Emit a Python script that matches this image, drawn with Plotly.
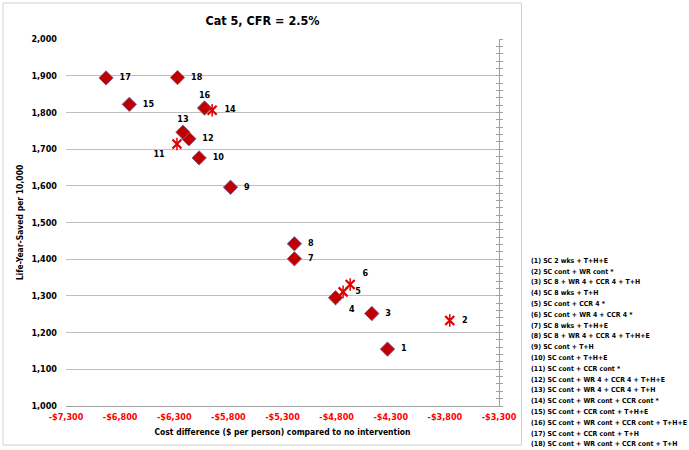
import plotly.graph_objects as go

# ---- data ----
point_ids = [1, 2, 3, 4, 5, 6, 7, 8, 9, 10, 11, 12, 13, 14, 15, 16, 17, 18]
cost_diff = [-4330, -3755, -4475, -4810, -4740, -4675, -5190, -5190, -5780,
             -6070, -6275, -6165, -6220, -5950, -6715, -6020, -6930, -6270]
life_years = [1155, 1233, 1252, 1295, 1311, 1331, 1401, 1442, 1596,
              1676, 1714, 1728, 1746, 1806, 1822, 1812, 1894, 1895]
# '*' strategies (drawn with the star/cross marker)
starred = [False, True, False, False, True, True, False, False, False,
           False, True, False, False, True, False, False, False, False]
strategy_names = [
    "(1) SC 2 wks + T+H+E",
    "(2) SC cont + WR cont *",
    "(3) SC 8 + WR 4 + CCR 4 + T+H",
    "(4) SC 8 wks + T+H",
    "(5) SC cont + CCR 4 *",
    "(6) SC cont + WR 4 + CCR 4 *",
    "(7) SC 8 wks + T+H+E",
    "(8) SC 8 + WR 4 + CCR 4 + T+H+E",
    "(9) SC cont + T+H",
    "(10) SC cont + T+H+E",
    "(11) SC cont + CCR cont *",
    "(12) SC cont + WR 4 + CCR 4 + T+H+E",
    "(13) SC cont + WR 4 + CCR 4 + T+H",
    "(14) SC cont + WR cont + CCR cont *",
    "(15) SC cont + CCR cont + T+H+E",
    "(16) SC cont + WR cont + CCR cont + T+H+E",
    "(17) SC cont + CCR cont + T+H",
    "(18) SC cont + WR cont + CCR cont + T+H",
]
x_ticks = [-7300, -6800, -6300, -5800, -5300, -4800, -4300, -3800, -3300]
y_ticks = [1000, 1100, 1200, 1300, 1400, 1500, 1600, 1700, 1800, 1900, 2000]

# ---- style ----
FONT = "DejaVu Sans Condensed, Liberation Sans, Arial, sans-serif"
label_pos = {1: "middle right", 2: "middle right", 3: "middle right", 4: "bottom right",
             5: "middle right", 6: "top right", 7: "middle right", 8: "middle right",
             9: "middle right", 10: "middle right", 11: "bottom left", 12: "middle right",
             13: "top center", 14: "middle right", 15: "middle right", 16: "top center",
             17: "middle right", 18: "middle right"}

fig = go.Figure()

dia = [i for i, s in enumerate(starred) if not s]
stars = [i for i, s in enumerate(starred) if s]

fig.add_trace(go.Scatter(
    x=[cost_diff[i] for i in dia], y=[life_years[i] for i in dia],
    mode="markers+text",
    text=["  " + str(point_ids[i]) + "  " for i in dia],
    textposition=[label_pos[point_ids[i]] for i in dia],
    textfont=dict(family=FONT, size=9, color="black", weight="bold"),
    marker=dict(symbol="diamond", size=11, color="#C00000",
                line=dict(color="#7F5B8F", width=1)),
    showlegend=False, cliponaxis=False))

fig.add_trace(go.Scatter(
    x=[cost_diff[i] for i in stars], y=[life_years[i] for i in stars],
    mode="markers",
    marker=dict(symbol="x-thin-open", size=9, color="#E00000",
                line=dict(color="#E00000", width=2.2)),
    showlegend=False, cliponaxis=False))
fig.add_trace(go.Scatter(
    x=[cost_diff[i] for i in stars], y=[life_years[i] for i in stars],
    mode="markers+text",
    text=["  " + str(point_ids[i]) + "  " for i in stars],
    textposition=[label_pos[point_ids[i]] for i in stars],
    textfont=dict(family=FONT, size=9, color="black", weight="bold"),
    marker=dict(symbol="line-ns-open", size=9, color="#E00000",
                line=dict(color="#E00000", width=1.5)),
    showlegend=False, cliponaxis=False))

# dummy traces for right-side tick axes
fig.add_trace(go.Scatter(x=[], y=[], yaxis="y2", showlegend=False))
fig.add_trace(go.Scatter(x=[], y=[], yaxis="y3", showlegend=False))

W, H = 689, 450
L, R, T, B = 66, 190, 39, 44
pw, ph = W - L - R, H - T - B

def px_x(p):
    return (p - L) / pw

def px_y(p):
    return (H - B - p) / ph

# legend listing on the right
for k, name in enumerate(strategy_names):
    fig.add_annotation(text=name, xref="paper", yref="paper",
                       x=px_x(529), y=px_y(260.7 + k * 10.8),
                       xanchor="left", yanchor="middle", showarrow=False,
                       font=dict(family=FONT, size=6.9, color="black", weight="bold"))

# chart border
fig.add_shape(type="rect", xref="paper", yref="paper",
              x0=px_x(3), x1=px_x(521.5), y0=px_y(445), y1=px_y(3),
              line=dict(color="#D0D0D0", width=1), layer="below")

fig.update_layout(
    width=W, height=H,
    margin=dict(l=L, r=R, t=T, b=B),
    paper_bgcolor="white", plot_bgcolor="white",
    title=dict(text="Cat 5, CFR = 2.5%", xref="container", x=262.5 / W, xanchor="center",
               yref="container", y=1 - 20.5 / H, yanchor="middle",
               font=dict(family=FONT, size=12.5, color="black", weight="bold")),
    xaxis=dict(range=[-7300, -3300], tickvals=x_ticks,
               ticktext=["-$" + f"{abs(v):,}" for v in x_ticks],
               tickfont=dict(family=FONT, size=9, color="#FF0000", weight="bold"),
               showgrid=False, zeroline=False, showline=True, linecolor="#A0A0A0",
               ticks="", ticklabelstandoff=2,
               title=dict(text="Cost difference ($ per person) compared to no intervention",
                          font=dict(family=FONT, size=8.5, color="black", weight="bold"),
                          standoff=8)),
    yaxis=dict(range=[1000, 2000], tickvals=y_ticks, tickformat=",",
               tickfont=dict(family=FONT, size=9, color="black", weight="bold"),
               showgrid=True, gridcolor="#BFBFBF", gridwidth=1,
               zeroline=False, showline=False, ticks="", ticklabelstandoff=8,
               title=dict(text="Life-Year-Saved per 10,000",
                          font=dict(family=FONT, size=8.5, color="black", weight="bold"),
                          standoff=6)),
    yaxis2=dict(range=[1000, 2000], overlaying="y", side="right", anchor="x",
                showline=True, linecolor="#A0A0A0", showgrid=False, zeroline=False,
                showticklabels=False, ticks="outside", ticklen=3, tickcolor="#A0A0A0",
                dtick=100, tick0=1000,
                minor=dict(ticks="outside", ticklen=3, dtick=20, tickcolor="#A0A0A0")),
    yaxis3=dict(range=[1000, 2000], overlaying="y", side="right", anchor="x",
                showline=False, showgrid=False, zeroline=False,
                showticklabels=False, ticks="inside", ticklen=3, tickcolor="#A0A0A0",
                dtick=100, tick0=1000,
                minor=dict(ticks="inside", ticklen=3, dtick=20, tickcolor="#A0A0A0")),
)

fig.write_html("out.html",
               config={"displayModeBar": False},
               post_script="document.body.style.margin='0px';"
                           "document.body.style.overflow='hidden';")
